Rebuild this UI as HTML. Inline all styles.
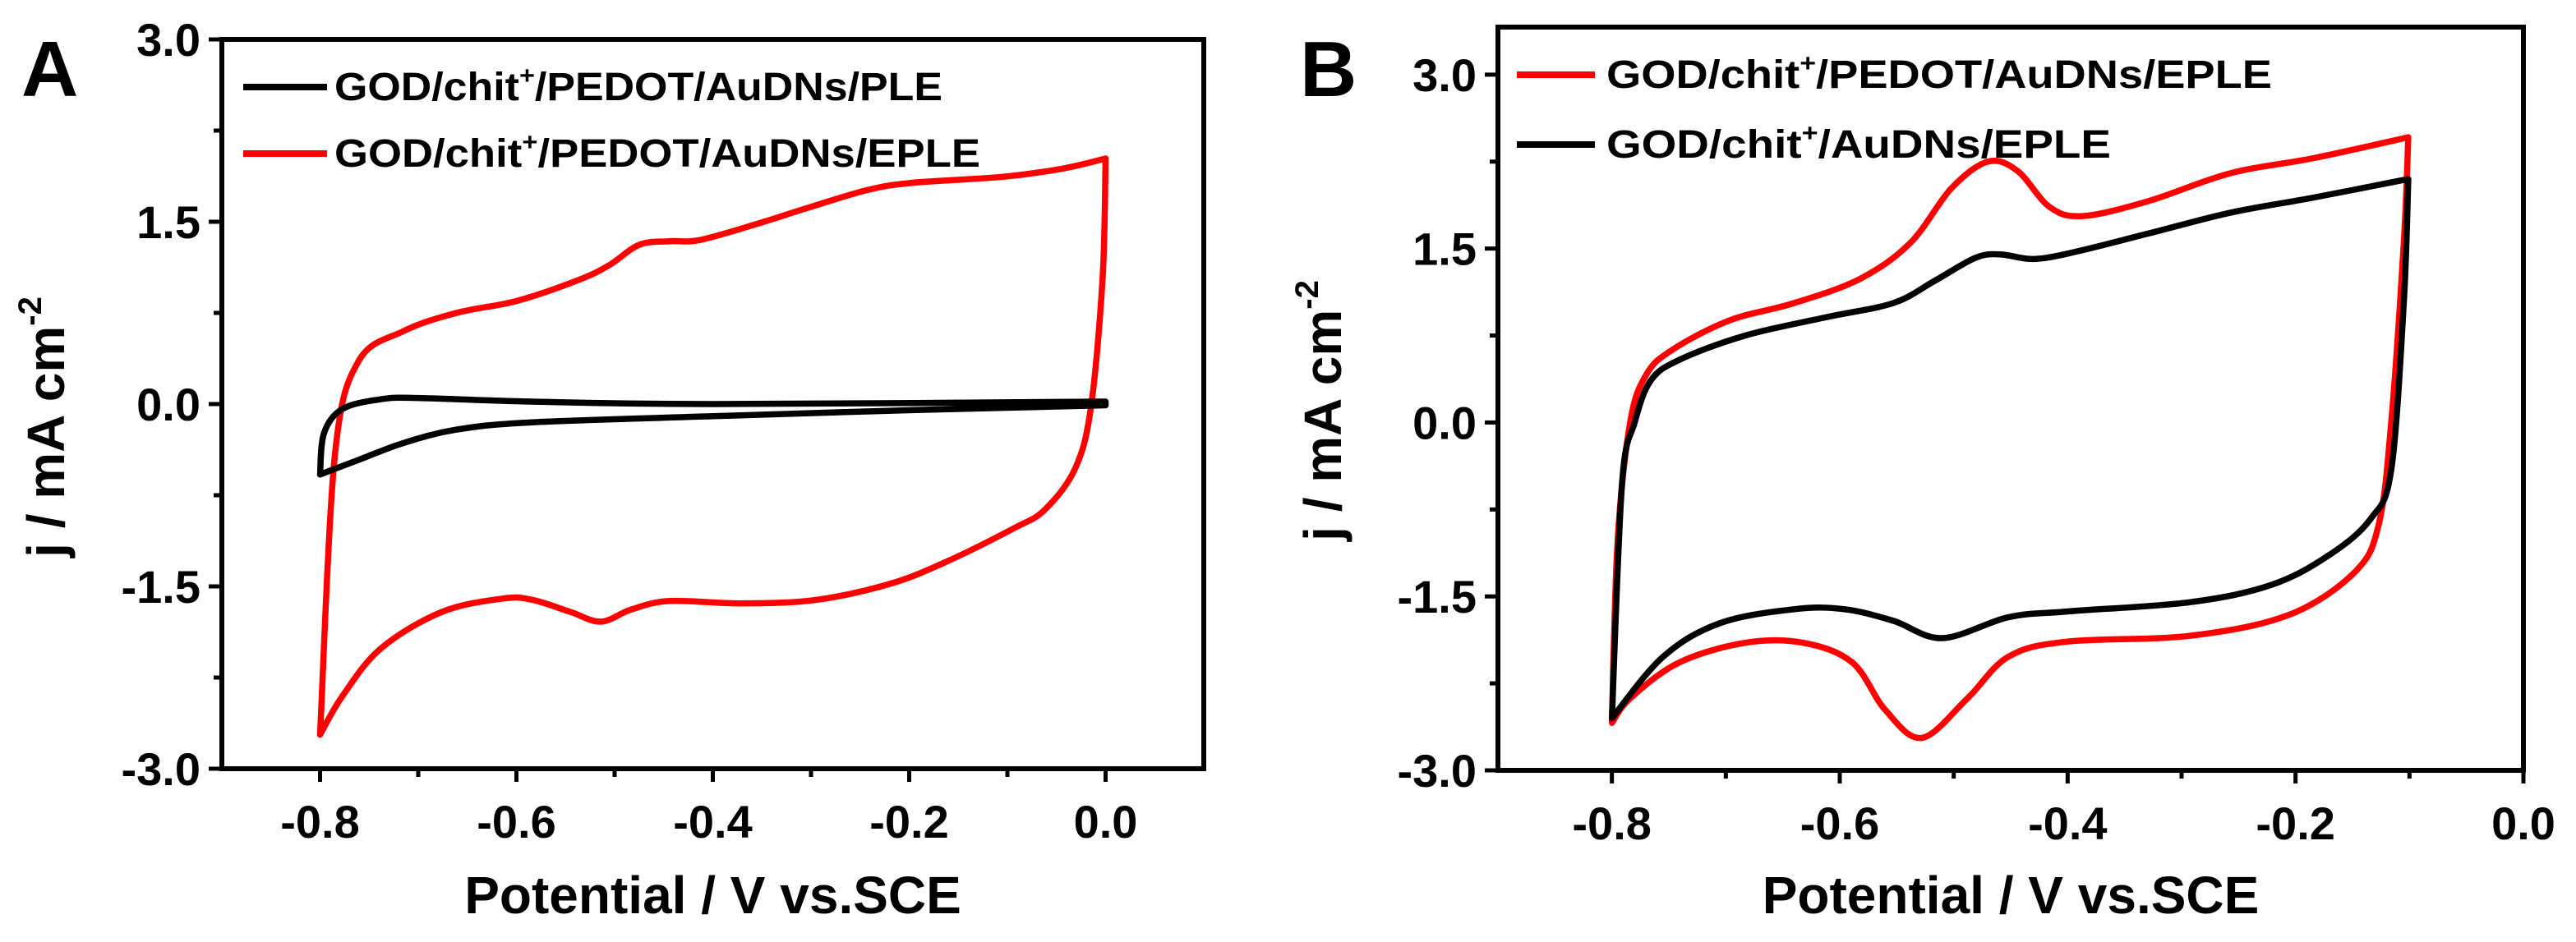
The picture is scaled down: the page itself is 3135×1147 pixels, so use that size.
<!DOCTYPE html>
<html><head><meta charset="utf-8"><style>
html,body{margin:0;padding:0;background:#fff}
svg{display:block}
text{font-family:"Liberation Sans",Arial,sans-serif;font-weight:bold;fill:#000}
</style></head><body>
<svg id="fig" width="3135" height="1147" viewBox="0 0 3135 1147" xmlns="http://www.w3.org/2000/svg"></svg>
<script>
// Panel A data
const aTicksX=[-0.8,-0.6,-0.4,-0.2,0.0];
const aTickLabelsX=["-0.8","-0.6","-0.4","-0.2","0.0"];
const aTicksY=[3.0,1.5,0.0,-1.5,-3.0];
const aTickLabelsY=["3.0","1.5","0.0","-1.5","-3.0"];
const aRedX=[-0.8,-0.785,-0.761,-0.715,-0.661,-0.599,-0.537,-0.506,-0.475,-0.444,-0.413,-0.352,-0.305,-0.243,-0.197,-0.104,-0.042,0,-0.003,-0.015,-0.031,-0.062,-0.093,-0.155,-0.216,-0.294,-0.371,-0.444,-0.483,-0.514,-0.545,-0.584,-0.614,-0.676,-0.738,-0.777,-0.8];
const aRedY=[-2.72,-0.43,0.35,0.6,0.75,0.85,1.02,1.14,1.31,1.34,1.35,1.49,1.61,1.76,1.82,1.87,1.94,2.02,1.04,-0.03,-0.53,-0.87,-1.02,-1.27,-1.47,-1.61,-1.64,-1.62,-1.69,-1.79,-1.71,-1.61,-1.6,-1.71,-2.01,-2.4,-2.72];
const aRedCorners=[17];
const aBlackX=[-0.8,-0.796,-0.777,-0.738,-0.7,-0.584,-0.4,0,0,-0.197,-0.4,-0.584,-0.661,-0.715,-0.761,-0.8];
const aBlackY=[-0.58,-0.24,-0.04,0.04,0.05,0.02,0.0,0.02,-0.01,-0.05,-0.1,-0.15,-0.21,-0.32,-0.46,-0.58];
const aBlackCorners=[7,8];
// Panel B data
const bTicksX=[-0.8,-0.6,-0.4,-0.2,0.0];
const bTickLabelsX=["-0.8","-0.6","-0.4","-0.2","0.0"];
const bTicksY=[3.0,1.5,0.0,-1.5,-3.0];
const bTickLabelsY=["3.0","1.5","0.0","-1.5","-3.0"];
const bRedX=[-0.8,-0.795,-0.784,-0.77,-0.748,-0.697,-0.64,-0.582,-0.538,-0.502,-0.47,-0.444,-0.416,-0.387,-0.329,-0.257,-0.184,-0.101,-0.105,-0.116,-0.127,-0.148,-0.206,-0.293,-0.401,-0.452,-0.488,-0.528,-0.56,-0.589,-0.632,-0.683,-0.741,-0.784,-0.8];
const bRedY=[-2.59,-1.03,0,0.41,0.62,0.88,1.03,1.24,1.55,2.02,2.25,2.17,1.86,1.78,1.91,2.15,2.28,2.46,1.55,0,-0.88,-1.29,-1.66,-1.84,-1.89,-2.02,-2.38,-2.72,-2.48,-2.07,-1.9,-1.9,-2.07,-2.38,-2.59];
const bRedCorners=[17];
const bBlackX=[-0.8,-0.791,-0.78,-0.766,-0.741,-0.683,-0.611,-0.553,-0.517,-0.481,-0.459,-0.43,-0.394,-0.329,-0.257,-0.184,-0.101,-0.105,-0.116,-0.134,-0.17,-0.221,-0.293,-0.401,-0.452,-0.51,-0.553,-0.596,-0.64,-0.705,-0.755,-0.8];
const bBlackY=[-2.55,-0.52,0,0.36,0.54,0.75,0.91,1.03,1.22,1.42,1.45,1.41,1.47,1.63,1.81,1.94,2.1,1.03,-0.41,-0.83,-1.14,-1.4,-1.55,-1.63,-1.68,-1.86,-1.71,-1.61,-1.61,-1.73,-2.02,-2.55];
const bBlackCorners=[16];

const NS="http://www.w3.org/2000/svg";
const svg=document.getElementById('fig');
function mk(tag,attrs,parent){const e=document.createElementNS(NS,tag);for(const k in attrs)e.setAttribute(k,attrs[k]);(parent||svg).appendChild(e);return e;}
function smoothSeg(pts,first){let d=(first?"M":"L")+pts[0][0].toFixed(1)+","+pts[0][1].toFixed(1);
 for(let i=0;i<pts.length-1;i++){const p0=pts[Math.max(0,i-1)],p1=pts[i],p2=pts[i+1],p3=pts[Math.min(pts.length-1,i+2)];
  const c1=[p1[0]+(p2[0]-p0[0])/6,p1[1]+(p2[1]-p0[1])/6],c2=[p2[0]-(p3[0]-p1[0])/6,p2[1]-(p3[1]-p1[1])/6];
  d+=" C"+c1[0].toFixed(1)+","+c1[1].toFixed(1)+" "+c2[0].toFixed(1)+","+c2[1].toFixed(1)+" "+p2[0].toFixed(1)+","+p2[1].toFixed(1);}
 return d;}
function smooth(pts,corners){
 const idx=[0,...corners,pts.length-1];let d="";
 for(let k=0;k<idx.length-1;k++){d+=smoothSeg(pts.slice(idx[k],idx[k+1]+1),k==0)+" ";}
 return d;}

function panel(cfg){
 const g=mk('g',{});
 
 
 const sx=v=>cfg.x0+(v-cfg.xmin)/(cfg.xmax-cfg.xmin)*(cfg.x1-cfg.x0);
 const sy=v=>cfg.y1-(v-cfg.ymin)/(cfg.ymax-cfg.ymin)*(cfg.y1-cfg.y0);
 cfg.series.forEach(s=>{
  const pts=s.x.map((v,i)=>[sx(v),sy(s.y[i])]);
  const p=mk('path',{d:smooth(pts,s.corners),fill:'none',stroke:s.color,'stroke-width':7.5,'stroke-linejoin':'round','stroke-linecap':'round'},g);
  
  
 });
 const fr=mk('rect',{x:cfg.x0,y:cfg.y0,width:cfg.x1-cfg.x0,height:cfg.y1-cfg.y0,fill:'none',stroke:'#000','stroke-width':6},g);
 
 
 cfg.tx.forEach((v,i)=>{
  const X=sx(v);
  mk('line',{x1:X,y1:cfg.y1,x2:X,y2:cfg.y1+16,stroke:'#000','stroke-width':5},g);
  const h=sx(v+0.1);
  if(h<cfg.x1-2) mk('line',{x1:h,y1:cfg.y1,x2:h,y2:cfg.y1+10,stroke:'#000','stroke-width':5},g);
  if(i==0){const h2=sx(v-0.1); if(h2>cfg.x0+2) mk('line',{x1:h2,y1:cfg.y1,x2:h2,y2:cfg.y1+10,stroke:'#000','stroke-width':5},g);}
  const t=mk('text',{x:X,y:cfg.y1+84,'font-size':56,'text-anchor':'middle'},g);
  t.textContent=cfg.txl[i];
  
  
 });
 cfg.ty.forEach((v,i)=>{
  const Y=sy(v);
  mk('line',{x1:cfg.x0-16,y1:Y,x2:cfg.x0,y2:Y,stroke:'#000','stroke-width':5},g);
  const h=sy(v-0.75);
  if(v>cfg.ymin+0.1) mk('line',{x1:cfg.x0-10,y1:h,x2:cfg.x0,y2:h,stroke:'#000','stroke-width':5},g);
  const t=mk('text',{x:cfg.x0-26,y:Y+20,'font-size':56,'text-anchor':'end'},g);
  t.textContent=cfg.tyl[i];
  
  
 });
 const xt=mk('text',{x:(cfg.x0+cfg.x1)/2,y:1112,'font-size':64,'text-anchor':'middle'},g);
 xt.textContent='Potential / V vs.SCE';
 
 
 const yt=mk('text',{x:0,y:0,'font-size':64,'text-anchor':'middle',transform:`translate(${cfg.ytx},${cfg.yty}) rotate(-90)`},g);
 yt.innerHTML='j / mA cm<tspan font-size="40" dy="-28">-2</tspan>';
 
 
 const pl=mk('text',{x:cfg.lx,y:cfg.ly,'font-size':96},g);
 pl.textContent=cfg.letter;
 
 
 cfg.legend.forEach(L=>{
  const lg=mk('g',{},g);
  
  
  mk('line',{x1:L.lx1,y1:L.ly,x2:L.lx2,y2:L.ly,stroke:L.color,'stroke-width':8},lg);
  const t=mk('text',{x:L.tx,y:L.ly+16,'font-size':48,textLength:L.tw,lengthAdjust:'spacingAndGlyphs'},lg);
  t.innerHTML=L.html;
 });
}
const sup='<tspan font-size="30" dy="-20">+</tspan><tspan dy="20">';
panel({name:'panel-a',letter:'A',lx:26,ly:117,x0:270,x1:1465,y0:48,y1:936,xmin:-0.9,xmax:0.1,ymin:-3,ymax:3,
 tx:aTicksX,txl:aTickLabelsX,ty:aTicksY,tyl:aTickLabelsY,ytx:78,yty:520,
 series:[{name:'series-eple-red',x:aRedX,y:aRedY,corners:aRedCorners,color:'#ff0000'},{name:'series-ple-black',x:aBlackX,y:aBlackY,corners:aBlackCorners,color:'#000'}],
 legend:[{color:'#000',lx1:296,lx2:398,ly:106,tx:407,tw:740,html:'GOD/chit'+sup+'/PEDOT/AuDNs/PLE</tspan>'},
         {color:'#ff0000',lx1:296,lx2:398,ly:187,tx:407,tw:786,html:'GOD/chit'+sup+'/PEDOT/AuDNs/EPLE</tspan>'}]});
panel({name:'panel-b',letter:'B',lx:1582,ly:117,x0:1823,x1:3071,y0:33,y1:938,xmin:-0.9,xmax:0.0,ymin:-3,ymax:3.41,
 tx:bTicksX,txl:bTickLabelsX,ty:bTicksY,tyl:bTickLabelsY,ytx:1632,yty:500,
 series:[{name:'series-pedot-red',x:bRedX,y:bRedY,corners:bRedCorners,color:'#ff0000'},{name:'series-nopedot-black',x:bBlackX,y:bBlackY,corners:bBlackCorners,color:'#000'}],
 legend:[{color:'#ff0000',lx1:1846,lx2:1941,ly:91,tx:1955,tw:810,html:'GOD/chit'+sup+'/PEDOT/AuDNs/EPLE</tspan>'},
         {color:'#000',lx1:1846,lx2:1941,ly:176,tx:1955,tw:614,html:'GOD/chit'+sup+'/AuDNs/EPLE</tspan>'}]});
</script>
</body></html>
